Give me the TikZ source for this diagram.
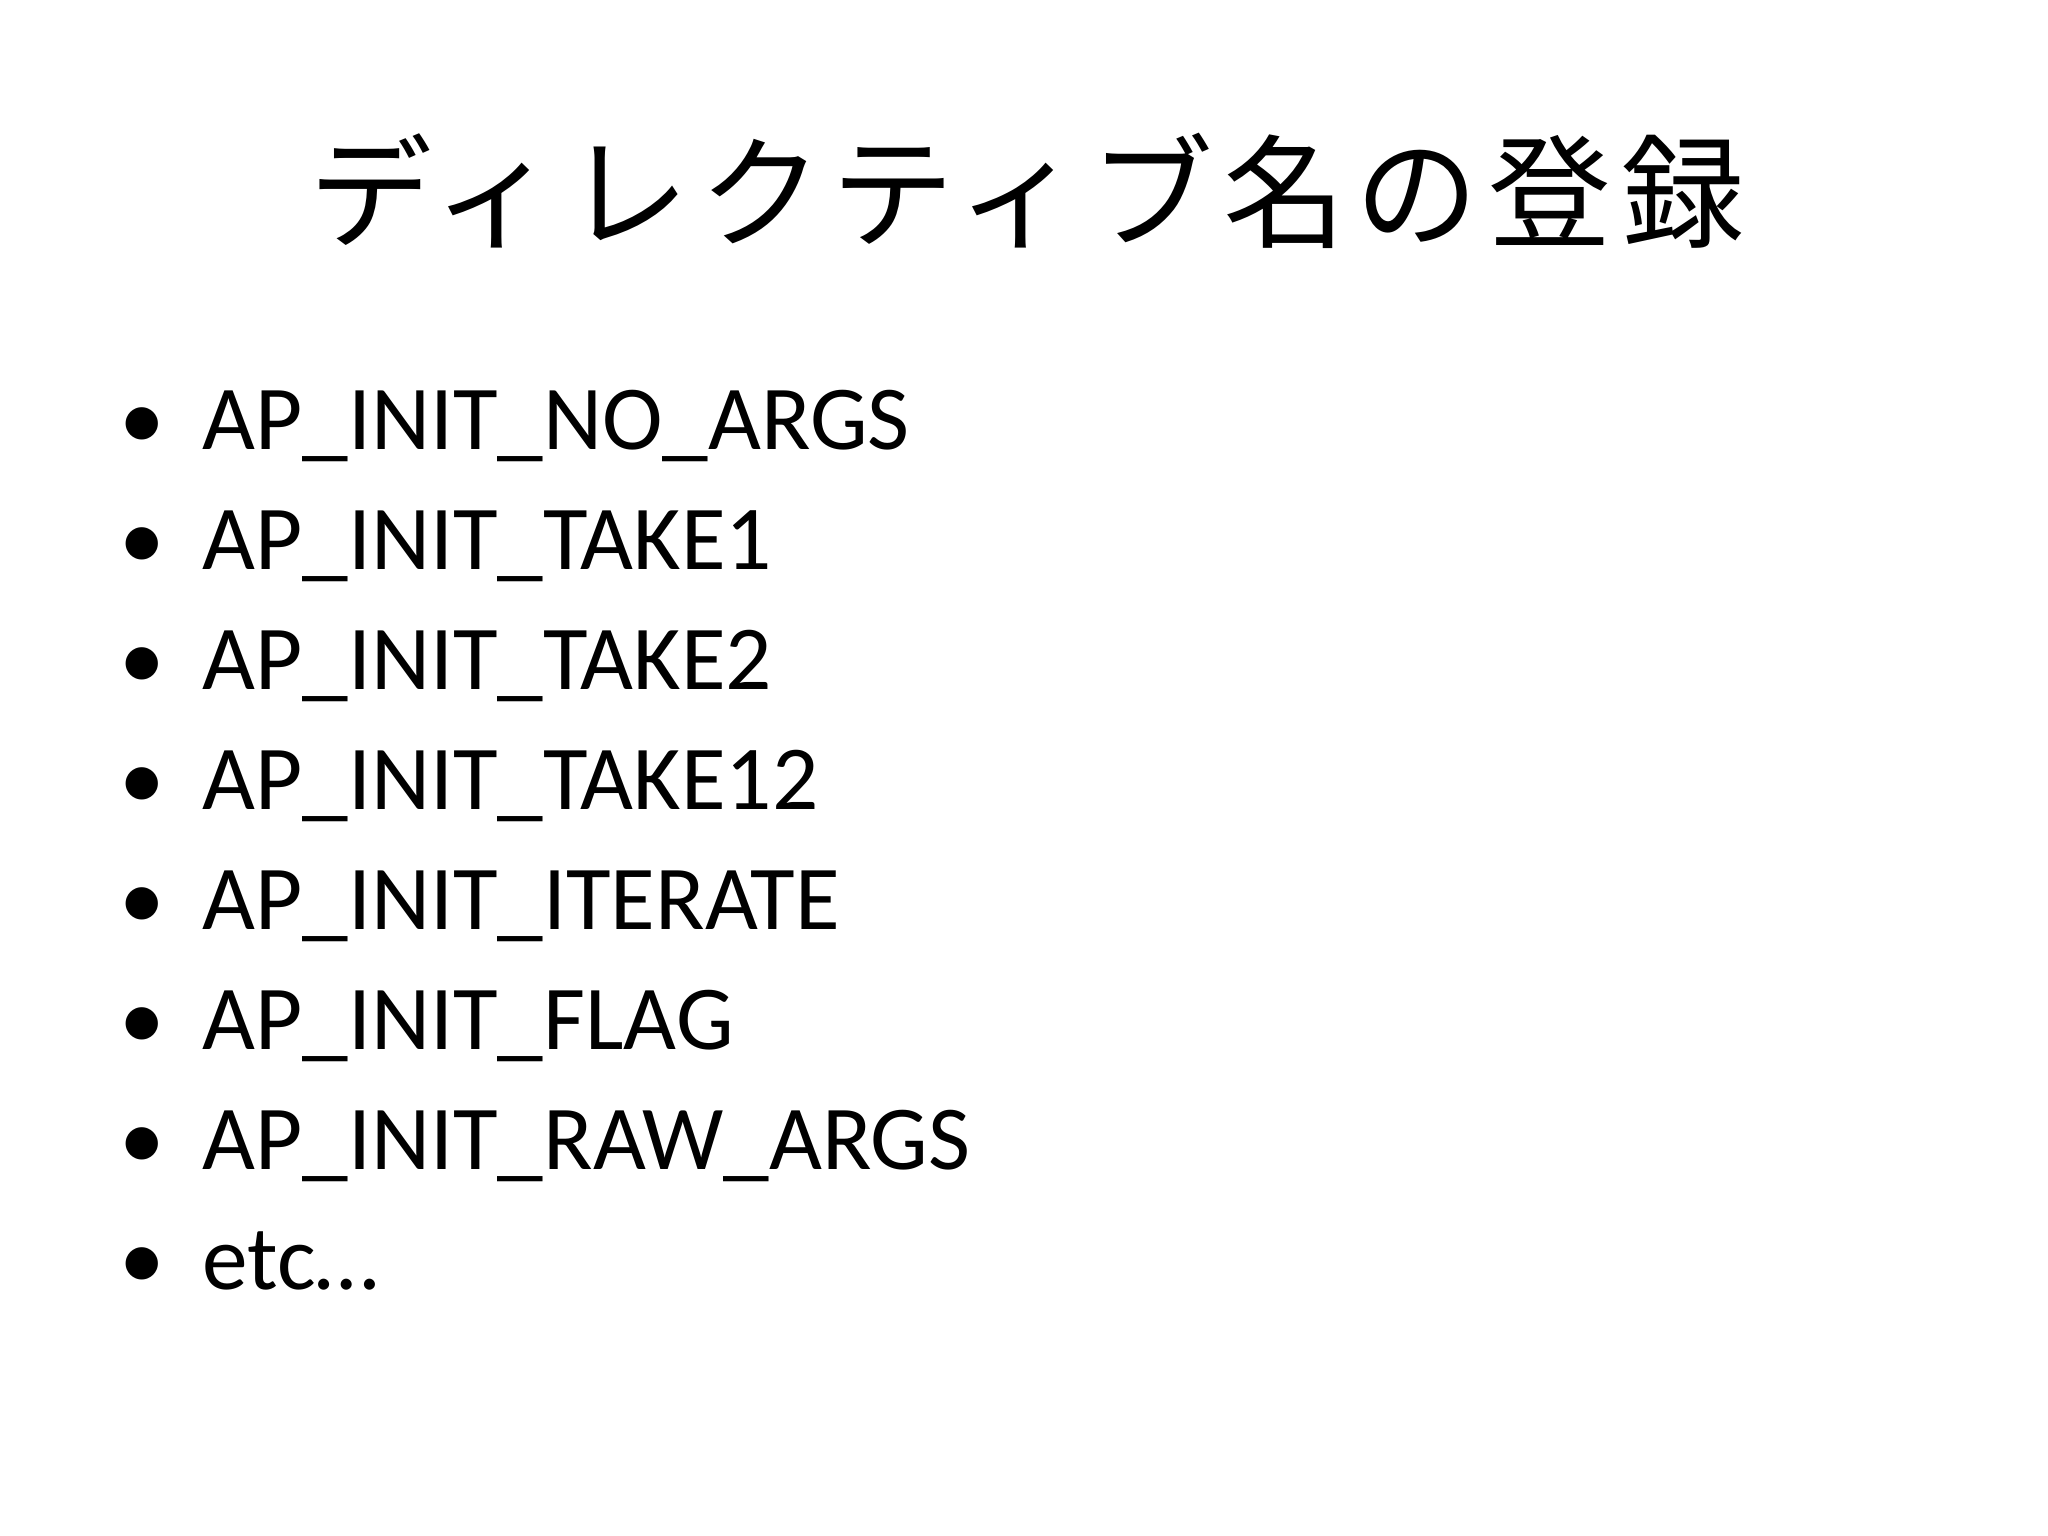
\documentclass[tikz,border=0pt]{standalone}
\usepackage{fontspec}
\setmainfont{Carlito}
\newfontfamily\cjk{Noto Sans CJK JP}
\begin{document}
\begin{tikzpicture}[x=1cm,y=1cm,
  item/.style={anchor=base west,inner sep=0pt,font=\fontsize{26}{30}\selectfont},
  dot/.style={anchor=base,inner sep=0pt,font=\fontsize{26}{30}\selectfont}]
\useasboundingbox (0,0) rectangle (20.48,15.36);
\fill[white] (0,0) rectangle (20.48,15.36);
\node[inner sep=0pt,font=\cjk\fontsize{35}{40}\selectfont\addfontfeature{LetterSpace=8}] (title) at (10.27,13.45) {ディレクティブ名の登録};
\foreach \t [count=\i] in {AP\_INIT\_NO\_ARGS,AP\_INIT\_TAKE1,AP\_INIT\_TAKE2,AP\_INIT\_TAKE12,AP\_INIT\_ITERATE,AP\_INIT\_FLAG,AP\_INIT\_RAW\_ARGS,etc…}{
  \node[dot] (b\i) at (1.42,{10.86-1.2*(\i-1)}) {•};
  \node[item] (t\i) at (2.02,{10.86-1.2*(\i-1)}) {\t};
}
\end{tikzpicture}
\end{document}
